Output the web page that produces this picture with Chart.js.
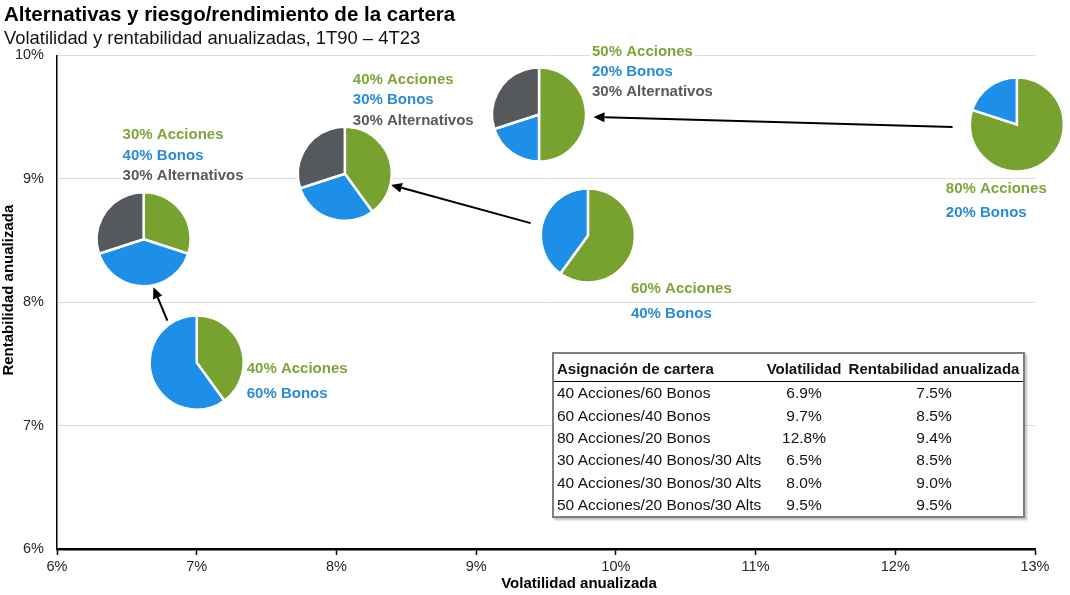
<!DOCTYPE html>
<html>
<head>
<meta charset="utf-8">
<script src="https://cdn.jsdelivr.net/npm/chart.js@4.4.1/dist/chart.umd.min.js"></script>
<style>
  body { margin: 0; background: #fff; font-family: 'Liberation Sans', Arial, sans-serif; }
  #wrap { position: relative; width: 1070px; height: 595px; }
  #tabla {
    position: absolute; left: 552px; top: 352px; width: 473px;
    border: 2px solid #7f7f7f; background: #fff; border-collapse: collapse;
    box-shadow: 2px 2px 2px rgba(0,0,0,0.25);
    font-size: 15.5px; color: #111; table-layout: fixed;
  }
  #tabla th { font-weight: bold; font-size: 15px; padding: 6px 0 4px 0; line-height: 17px; border-bottom: 1.5px solid #000; white-space: nowrap; }
  #tabla td { padding: 0; height: 22.4px; line-height: 22px; white-space: nowrap; }
  #tabla .c1 { text-align: left; padding-left: 3px; width: 206px; }
  #tabla .c2 { text-align: center; width: 82px; }
  #tabla .c3 { text-align: center; }
</style>
</head>
<body>
<div id="wrap">
  <canvas id="grafico" width="1070" height="595"></canvas>
  <table id="tabla"></table>
</div>
<script>
// Datos de la tabla
const carteras = ['40 Acciones/60 Bonos', '60 Acciones/40 Bonos', '80 Acciones/20 Bonos',
  '30 Acciones/40 Bonos/30 Alts', '40 Acciones/30 Bonos/30 Alts', '50 Acciones/20 Bonos/30 Alts'];
const volatilidad = [6.9, 9.7, 12.8, 6.5, 8.0, 9.5];
const rentabilidad = [7.5, 8.5, 9.4, 8.5, 9.0, 9.5];

// Composición de cada cartera (%)
const acciones = [40, 60, 80, 30, 40, 50];
const bonos = [60, 40, 20, 40, 30, 20];
const alternativos = [0, 0, 0, 30, 30, 30];

// Posición de cada tarta (volatilidad %, rentabilidad %)
const volTarta = [7.0, 9.8, 12.87, 6.62, 8.06, 9.45];
const rentTarta = [7.51, 8.54, 9.44, 8.51, 9.04, 9.52];

// Flechas (origen -> destino), en unidades de los ejes
const flechaX0 = [6.79, 9.39, 12.41];
const flechaY0 = [7.85, 8.64, 9.42];
const flechaX1 = [6.69, 8.39, 9.84];
const flechaY1 = [8.12, 8.95, 9.50];

const ticksX = [6, 7, 8, 9, 10, 11, 12, 13];
const ticksY = [6, 7, 8, 9, 10];

// Estilo / maquetación
const FUENTE = "'Liberation Sans', Arial, sans-serif";
const VERDE = '#78a22f', AZUL = '#1d8fe8', GRIS = '#55595d';
const TXT_VERDE = '#7fa43a', TXT_AZUL = '#2a8bd8', TXT_GRIS = '#595959';
const RADIO = 47;
// desplazamiento de las etiquetas respecto al centro de la tarta (px) y separación de líneas
const etqDx = [50, 43, -71, -21, 8, 53];
const etqDy = [6, 53, 64, -104, -94, -63];
const etqSep = [25, 25, 24, 20.5, 20.5, 20];

// Tabla
const tabla = document.getElementById('tabla');
let html = '<tr><th class="c1">Asignación de cartera</th><th class="c2">Volatilidad</th><th class="c3">Rentabilidad anualizada</th></tr>';
carteras.forEach((c, i) => {
  html += `<tr><td class="c1">${c}</td><td class="c2">${volatilidad[i].toFixed(1)}%</td><td class="c3">${rentabilidad[i].toFixed(1)}%</td></tr>`;
});
tabla.innerHTML = html;

// Plugin: tartas, etiquetas, flechas y títulos de los ejes
const tartas = {
  id: 'tartas',
  afterDatasetsDraw(chart) {
    const ctx = chart.ctx;
    const xs = chart.scales.x, ys = chart.scales.y;
    const area = chart.chartArea;
    const puntos = chart.getDatasetMeta(0).data;

    // títulos de los ejes (descentrados como en el original)
    ctx.save();
    ctx.fillStyle = '#000';
    ctx.font = 'bold 15px ' + FUENTE;
    ctx.textAlign = 'center';
    ctx.textBaseline = 'middle';
    ctx.fillText('Volatilidad anualizada', (area.left + area.right) / 2 + 33, 584);
    ctx.translate(9, (area.top + area.bottom) / 2 - 12);
    ctx.rotate(-Math.PI / 2);
    ctx.fillText('Rentabilidad anualizada', 0, 0);
    ctx.restore();

    // flechas
    ctx.save();
    ctx.strokeStyle = '#000';
    ctx.fillStyle = '#000';
    ctx.lineWidth = 2;
    flechaX0.forEach((_, i) => {
      const x0 = xs.getPixelForValue(flechaX0[i]), y0 = ys.getPixelForValue(flechaY0[i]);
      const x1 = xs.getPixelForValue(flechaX1[i]), y1 = ys.getPixelForValue(flechaY1[i]);
      const a = Math.atan2(y1 - y0, x1 - x0);
      const L = 11, W = 5;
      const bx = x1 - L * Math.cos(a), by = y1 - L * Math.sin(a);
      ctx.beginPath();
      ctx.moveTo(x0, y0);
      ctx.lineTo(bx, by);
      ctx.stroke();
      ctx.beginPath();
      ctx.moveTo(x1, y1);
      ctx.lineTo(bx + W * Math.sin(a), by - W * Math.cos(a));
      ctx.lineTo(bx - W * Math.sin(a), by + W * Math.cos(a));
      ctx.closePath();
      ctx.fill();
    });
    ctx.restore();

    // tartas
    puntos.forEach((p, i) => {
      const partes = [acciones[i], bonos[i], alternativos[i]];
      const colores = [VERDE, AZUL, GRIS];
      let ang = -Math.PI / 2;
      ctx.save();
      partes.forEach((v, k) => {
        if (!v) return;
        const fin = ang + v / 100 * Math.PI * 2;
        ctx.beginPath();
        ctx.moveTo(p.x, p.y);
        ctx.arc(p.x, p.y, RADIO, ang, fin);
        ctx.closePath();
        ctx.fillStyle = colores[k];
        ctx.fill();
        ctx.strokeStyle = '#fff';
        ctx.lineWidth = 2.5;
        ctx.stroke();
        ang = fin;
      });
      ctx.restore();

      // etiquetas
      const lineas = [[acciones[i] + '% Acciones', TXT_VERDE], [bonos[i] + '% Bonos', TXT_AZUL]];
      if (alternativos[i]) lineas.push([alternativos[i] + '% Alternativos', TXT_GRIS]);
      ctx.save();
      ctx.font = 'bold 15px ' + FUENTE;
      ctx.textBaseline = 'middle';
      ctx.textAlign = 'left';
      lineas.forEach(([t, col], k) => {
        const tx = p.x + etqDx[i], ty = p.y + etqDy[i] + k * etqSep[i];
        const w = ctx.measureText(t).width;
        ctx.fillStyle = '#fff';
        ctx.fillRect(tx - 2, ty - 8, w + 4, 16);
        ctx.fillStyle = col;
        ctx.fillText(t, tx, ty);
      });
      ctx.restore();
    });
  }
};

const ctx = document.getElementById('grafico').getContext('2d');
new Chart(ctx, {
  type: 'scatter',
  data: {
    datasets: [{
      data: volTarta.map((x, i) => ({ x: x, y: rentTarta[i] })),
      pointRadius: 0,
      pointHoverRadius: 0
    }]
  },
  options: {
    responsive: false,
    animation: false,
    layout: { padding: { left: 4, right: 35, top: 0, bottom: 0 } },
    plugins: {
      legend: { display: false },
      tooltip: { enabled: false },
      title: {
        display: true,
        text: 'Alternativas y riesgo/rendimiento de la cartera',
        align: 'start',
        color: '#000',
        font: { family: FUENTE, size: 20.5, weight: 'bold', lineHeight: 1.1 },
        padding: { top: 4.5, bottom: 0 }
      },
      subtitle: {
        display: true,
        text: 'Volatilidad y rentabilidad anualizadas, 1T90 – 4T23',
        align: 'start',
        color: '#111',
        font: { family: FUENTE, size: 18.4, lineHeight: 1.1 },
        padding: { top: 1.5, bottom: 6.5 }
      }
    },
    scales: {
      x: {
        type: 'linear',
        min: ticksX[0],
        max: ticksX[ticksX.length - 1],
        afterBuildTicks: s => { s.ticks = ticksX.map(v => ({ value: v })); },
        afterFit: s => { s.height = 46; },
        ticks: { callback: v => v + '%', color: '#262626', font: { family: FUENTE, size: 14.5 }, padding: 3.5, maxRotation: 0 },
        grid: { drawOnChartArea: false, drawTicks: true, tickLength: 6, tickColor: '#000', tickWidth: 1.5 },
        border: { display: true, color: '#000', width: 2.5 }
      },
      y: {
        type: 'linear',
        min: ticksY[0],
        max: ticksY[ticksY.length - 1],
        afterBuildTicks: s => { s.ticks = ticksY.map(v => ({ value: v })); },
        afterFit: s => { s.width = 53; },
        ticks: { callback: v => v + '%', color: '#262626', font: { family: FUENTE, size: 14.5 }, padding: 13 },
        grid: { color: '#dcdcdc', lineWidth: 1, drawTicks: false },
        border: { display: true, color: '#000', width: 1.5 }
      }
    }
  },
  plugins: [tartas]
});
</script>
</body>
</html>
